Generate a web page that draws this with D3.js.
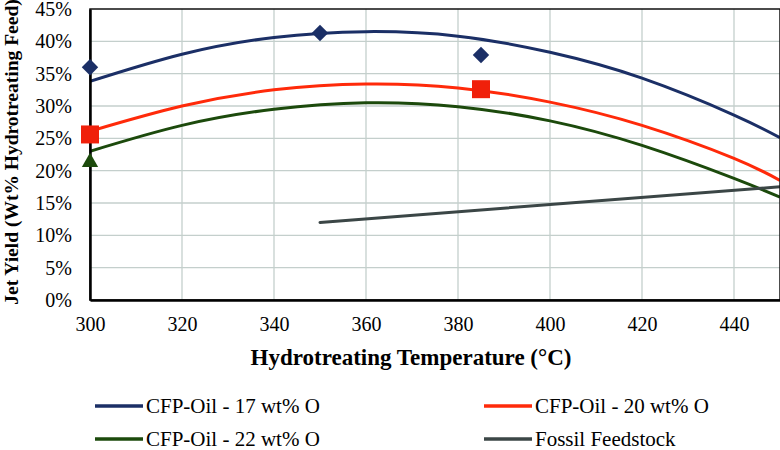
<!DOCTYPE html>
<html>
<head>
<meta charset="utf-8">
<script src="https://cdn.jsdelivr.net/npm/d3@7"></script>
<style>
  body { margin: 0; background: #fff; }
  svg text { font-family: "Liberation Serif", "Times New Roman", "DejaVu Serif", serif; }
</style>
</head>
<body>
<div id="chart"></div>
<script>
// 1: DATA
const temps = [300, 320, 340, 360, 380, 400, 420, 440, 450];
const fit17 = [33.8, 38.0, 40.6, 41.5, 40.8, 38.3, 34.3, 28.6, 25.1];
const fit20 = [26.1, 30.0, 32.5, 33.4, 32.8, 30.6, 27.0, 21.9, 18.5];
const fit22 = [23.0, 27.0, 29.5, 30.5, 29.9, 27.7, 23.9, 18.8, 15.9];

const fossilTemps = [350, 450];
const fossilYield = [12.0, 17.5];

// measured points
const obs17Temps = [300, 350, 385];
const obs17 = [36.0, 41.3, 37.9];
const obs20Temps = [300, 385];
const obs20 = [25.6, 32.6];
const obs22Temps = [300];
const obs22 = [21.3];

const xTicks = [300, 320, 340, 360, 380, 400, 420, 440];
const yTicks = [0, 5, 10, 15, 20, 25, 30, 35, 40, 45];

const seriesNames = ["CFP-Oil - 17 wt% O", "CFP-Oil - 20 wt% O", "CFP-Oil - 22 wt% O", "Fossil Feedstock"];
const colors = ["#1b2f66", "#ff2a0a", "#1c4a0c", "#3b4646"];

// 2: SVG
const W = 780, H = 450;
const margin = { top: 9, right: 0, bottom: 150, left: 90 };
const width = W - margin.left - margin.right;
const height = H - margin.top - margin.bottom;

const svg = d3.select("#chart").append("svg")
    .attr("width", W)
    .attr("height", H);

const g = svg.append("g")
    .attr("transform", `translate(${margin.left},${margin.top})`);

// 3: SCALES
const x = d3.scaleLinear().domain([300, 450]).range([0, width]);
const y = d3.scaleLinear().domain([0, 45]).range([height, 0]);

// gridlines
g.append("g").selectAll("line")
    .data(xTicks.slice(1))
    .join("line")
    .attr("x1", d => x(d)).attr("x2", d => x(d))
    .attr("y1", 0).attr("y2", height)
    .attr("stroke", "#c4cfcc").attr("stroke-width", 1.3);

g.append("g").selectAll("line")
    .data(yTicks.slice(1, -1))
    .join("line")
    .attr("x1", 0).attr("x2", width)
    .attr("y1", d => y(d)).attr("y2", d => y(d))
    .attr("stroke", "#c4cfcc").attr("stroke-width", 1.3);

// clip
svg.append("clipPath").attr("id", "clip")
    .append("rect").attr("width", width).attr("height", height);

const plot = g.append("g").attr("clip-path", "url(#clip)");

// 4: LINES
const line = d3.line()
    .x(d => x(d[0]))
    .y(d => y(d[1]))
    .curve(d3.curveNatural);

[fit17, fit20, fit22].forEach((vals, i) => {
    plot.append("path")
        .datum(temps.map((t, j) => [t, vals[j]]))
        .attr("fill", "none")
        .attr("stroke", colors[i])
        .attr("stroke-width", 3)
        .attr("d", line);
});

plot.append("path")
    .datum(fossilTemps.map((t, j) => [t, fossilYield[j]]))
    .attr("fill", "none")
    .attr("stroke", colors[3])
    .attr("stroke-width", 3)
    .attr("stroke-linecap", "round")
    .attr("d", d3.line().x(d => x(d[0])).y(d => y(d[1])));

// frame
g.append("rect")
    .attr("width", width).attr("height", height)
    .attr("fill", "none").attr("stroke", "#111").attr("stroke-width", 1.5);

// 5: AXES
const xAxis = g.append("g")
    .attr("transform", `translate(0,${height})`)
    .call(d3.axisBottom(x).tickValues(xTicks).tickSize(0).tickPadding(17));
xAxis.select(".domain").attr("stroke", "#000").attr("stroke-width", 2.5);
xAxis.selectAll("text").attr("font-size", "20px").attr("fill", "#000");

const yAxis = g.append("g")
    .call(d3.axisLeft(y).tickValues(yTicks).tickFormat(d => d + "%").tickSize(0).tickPadding(18));
yAxis.select(".domain").attr("stroke", "#000").attr("stroke-width", 2.5);
yAxis.selectAll("text").attr("font-size", "20px").attr("fill", "#000");

// markers (drawn over the axes)
const sym = (type, size) => d3.symbol().type(type).size(size)();

obs17Temps.forEach((t, i) => {
    g.append("path")
        .attr("d", sym(d3.symbolSquare, 135))
        .attr("transform", `translate(${x(t)},${y(obs17[i])}) rotate(45)`)
        .attr("fill", colors[0]);
});
obs20Temps.forEach((t, i) => {
    g.append("path")
        .attr("d", sym(d3.symbolSquare, 324))
        .attr("transform", `translate(${x(t)},${y(obs20[i])})`)
        .attr("fill", "#f0200a");
});
obs22Temps.forEach((t, i) => {
    g.append("path")
        .attr("d", sym(d3.symbolTriangle, 115))
        .attr("transform", `translate(${x(t)},${y(obs22[i])})`)
        .attr("fill", colors[2]);
});

// 6: LABELS
svg.append("text")
    .attr("x", 411).attr("y", 365)
    .attr("text-anchor", "middle")
    .attr("font-size", "23px").attr("font-weight", "bold")
    .text("Hydrotreating Temperature (°C)");

svg.append("text")
    .attr("transform", "rotate(-90)")
    .attr("x", -152).attr("y", 18)
    .attr("text-anchor", "middle")
    .attr("font-size", "19.5px").attr("font-weight", "bold")
    .text("Jet Yield (Wt% Hydrotreating Feed)");

// legend
const legendPos = [[95, 406], [484, 406], [95, 439], [484, 439]];
seriesNames.forEach((name, i) => {
    const row = svg.append("g")
        .attr("transform", `translate(${legendPos[i][0]},${legendPos[i][1]})`);
    row.append("line")
        .attr("x1", 0).attr("x2", 48)
        .attr("stroke", colors[i]).attr("stroke-width", 3.5);
    row.append("text")
        .attr("x", 51).attr("y", 6.5)
        .attr("font-size", "21px").attr("fill", "#000")
        .text(name);
});
</script>
</body>
</html>
